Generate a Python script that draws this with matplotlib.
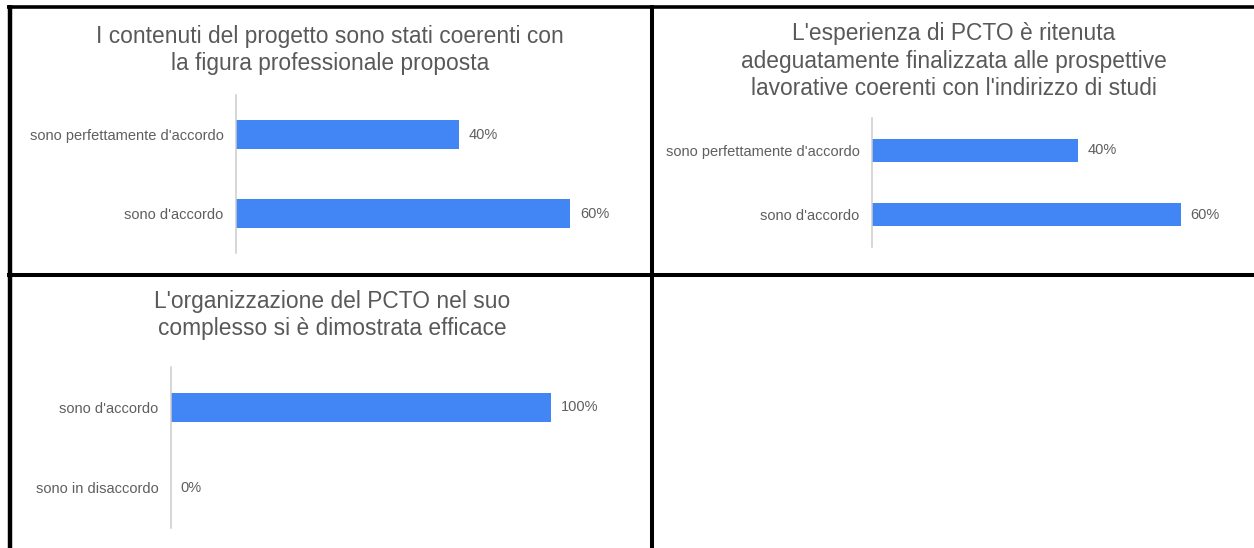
import matplotlib
matplotlib.use('Agg')
import matplotlib.pyplot as plt
from matplotlib.lines import Line2D

plt.rcParams['font.family'] = ['Liberation Sans', 'DejaVu Sans']

# data
titles = [
    "I contenuti del progetto sono stati coerenti con\nla figura professionale proposta",
    "L'esperienza di PCTO è ritenuta\nadeguatamente finalizzata alle prospettive\nlavorative coerenti con l'indirizzo di studi",
    "L'organizzazione del PCTO nel suo\ncomplesso si è dimostrata efficace",
]
cats1 = ["sono perfettamente d'accordo", "sono d'accordo"]
vals1 = [40, 60]
cats2 = ["sono perfettamente d'accordo", "sono d'accordo"]
vals2 = [40, 60]
cats3 = ["sono d'accordo", "sono in disaccordo"]
vals3 = [100, 0]

W, H = 1254, 548
fig = plt.figure(figsize=(W/100, H/100), dpi=100)

BLUE = '#4285f4'
TITLE_C = '#595959'
LABEL_C = '#5f5f5f'

def px_axes(x0, y0, x1, y1):
    # pixel box (top-left origin) -> figure axes
    return fig.add_axes([x0/W, 1-y1/H, (x1-x0)/W, (y1-y0)/H])

def panel(box, xmax, cats, vals, title, tx, ty):
    ax = px_axes(*box)
    ax.barh(range(len(cats)), vals, height=0.355, color=BLUE)
    ax.set_xlim(0, xmax)
    ax.set_ylim(len(cats)-0.5, -0.5)
    ax.set_yticks(range(len(cats)))
    ax.set_yticklabels(cats, fontsize=10.5, color=LABEL_C)
    ax.tick_params(axis='y', length=0, pad=9)
    ax.set_xticks([])
    for s in ['top', 'right', 'bottom']:
        ax.spines[s].set_visible(False)
    ax.spines['left'].set_color('#cccccc')
    ax.spines['left'].set_linewidth(1.1)
    ax.bar_label(ax.containers[0], labels=[f'{v}%' for v in vals],
                 padding=7, fontsize=10.5, color=LABEL_C)
    fig.text(tx/W, 1-ty/H, title, ha='center', va='center', fontsize=16.4,
             color=TITLE_C, linespacing=1.27)
    return ax

panel((236, 95, 626, 253), 70, cats1, vals1, titles[0], 330, 50)
panel((872, 118, 1232, 247), 70, cats2, vals2, titles[1], 954, 61)
panel((171, 367, 608, 528), 115, cats3, vals3, titles[2], 332, 315)

# cell borders
def hline(y, x0, x1, lw):
    fig.add_artist(Line2D([x0/W, x1/W], [1-y/H, 1-y/H], color='black', lw=lw,
                          solid_capstyle='butt'))

def vline(x, y0, y1, lw):
    fig.add_artist(Line2D([x/W, x/W], [1-y0/H, 1-y1/H], color='black', lw=lw,
                          solid_capstyle='butt'))

hline(6.5, 7, W, 2.6)
hline(275, 7, W, 2.9)
vline(9.5, 5, H, 3.2)
vline(652, 5, H, 2.9)

fig.savefig('out.png', dpi=100, facecolor='white')
